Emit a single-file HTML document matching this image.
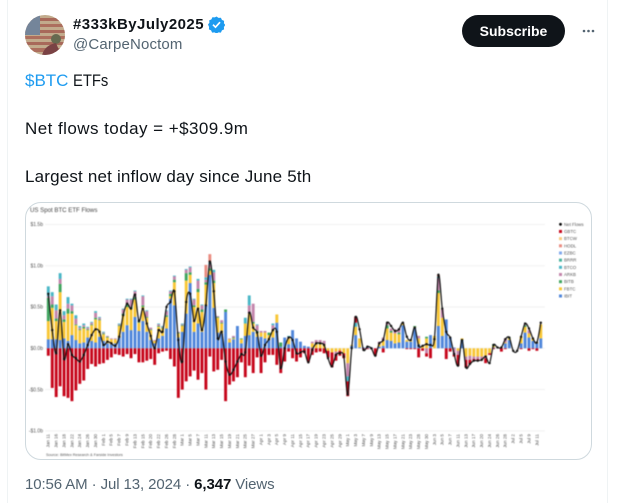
<!DOCTYPE html>
<html lang="en">
<head>
<meta charset="utf-8">
<title>Tweet: BTC ETF flows</title>
<style>
html,body{margin:0;padding:0;background:#fff;width:617px;height:503px;overflow:hidden}
body{font-family:"Liberation Sans",sans-serif;color:#0f1419;position:relative}
.t{position:absolute;white-space:nowrap;line-height:1}
svg text{font-family:"Liberation Sans",sans-serif}
</style>
</head>
<body>
<div style="position:absolute;left:7px;top:0;width:1px;height:503px;background:#eff3f4"></div>
<div style="position:absolute;left:607px;top:0;width:1px;height:503px;background:#eff3f4"></div>

<svg style="position:absolute;left:25px;top:15px" width="40" height="40" viewBox="0 0 40 40">
  <defs><clipPath id="av"><circle cx="20" cy="20" r="20"/></clipPath></defs>
  <g clip-path="url(#av)">
    <rect width="40" height="40" fill="#c2ab8c"/>
    <rect y="3" width="40" height="3" fill="#a8695a"/>
    <rect y="9" width="40" height="3" fill="#ad6f5e"/>
    <rect y="15" width="40" height="3" fill="#a8695a"/>
    <rect y="21" width="40" height="3" fill="#ad6f5e"/>
    <rect y="27" width="40" height="3" fill="#a8695a"/>
    <rect y="33" width="40" height="4" fill="#ad6f5e"/>
    <rect width="15" height="20" fill="#74859a"/>
    <ellipse cx="31" cy="24" rx="5" ry="5" fill="#666a50"/>
    <path d="M17 40 Q20 30 31 28 L36 40Z" fill="#7a4244"/>
  </g>
</svg>

<div class="t" style="left:73px;top:17px;font-size:15px;font-weight:700;letter-spacing:.45px">#333kByJuly2025</div>
<svg style="position:absolute;left:208px;top:16px" width="17" height="17" viewBox="0 0 17 17">
  <path d="M8.5 .5l2 1.4 2.4-.2 1 2.2 2.2 1-.2 2.4 1.4 1.7-1.4 2 .2 2.4-2.2 1-1 2.2-2.4-.2-2 1.1-2-1.1-2.4.2-1-2.2-2.2-1 .2-2.4L0 8.5l1.400-1.700-.2-2.400 2.200-1 1-2.200 2.400.2z" fill="#1d9bf0"/>
  <path d="M5 8.700l2.500 2.500 4.500-5" fill="none" stroke="#fff" stroke-width="1.700"/>
</svg>
<div class="t" style="left:73px;top:37px;font-size:15px;color:#536471;letter-spacing:.15px">@CarpeNoctom</div>

<div style="position:absolute;left:462px;top:15px;width:103px;height:32px;border-radius:16px;background:#0f1419;color:#fff;font-size:14px;font-weight:700;line-height:32px;text-align:center">Subscribe</div>
<svg style="position:absolute;left:581px;top:28px" width="14" height="6" viewBox="0 0 14 6">
  <circle cx="3" cy="3" r="1.300" fill="#536471"/><circle cx="7.500" cy="3" r="1.300" fill="#536471"/><circle cx="12" cy="3" r="1.300" fill="#536471"/>
</svg>

<div class="t" style="left:25px;top:72px;font-size:17px"><span style="color:#1d9bf0">$BTC</span> <span style="display:inline-block;transform:scaleX(.87);transform-origin:left center">ETFs</span></div>
<div class="t" style="left:25px;top:120px;font-size:17px;letter-spacing:.45px">Net flows today = +$309.9m</div>
<div class="t" style="left:25px;top:168px;font-size:17px;letter-spacing:.18px">Largest net inflow day since June 5th</div>

<div style="position:absolute;left:25px;top:202px;width:565px;height:256px;border:1px solid #cfd9de;border-radius:16px;box-sizing:content-box"></div>

<svg id="chart" style="position:absolute;left:0;top:0;filter:blur(.4px)" width="617" height="503" viewBox="0 0 617 503">
  <text x="30" y="212" font-size="6.100" fill="#444">US Spot BTC ETF Flows</text>
  <text x="46" y="456" font-size="3.800" fill="#555">Source: BitMex Research &amp; Farside Investors</text>
  <g id="grid"></g>
  <g id="bars"></g>
  <path id="netline" fill="none" stroke="#111" stroke-width="1.2"></path>
  <g id="dots"></g>
  <g id="xlabels"></g>
  <g id="legend"></g>
</svg>

<div class="t" style="left:25px;top:477px;font-size:15px;color:#536471;letter-spacing:-.1px">10:56 AM · Jul 13, 2024 · <b style="color:#0f1419">6,347</b> Views</div>

<script>
const dates = ["Jan 11","Jan 12","Jan 16","Jan 17","Jan 18","Jan 19","Jan 22","Jan 23","Jan 24","Jan 25","Jan 26","Jan 29","Jan 30","Jan 31",
"Feb 1","Feb 2","Feb 5","Feb 6","Feb 7","Feb 8","Feb 9","Feb 12","Feb 13","Feb 14","Feb 15","Feb 16","Feb 20","Feb 21","Feb 22","Feb 23","Feb 26","Feb 27","Feb 28","Feb 29",
"Mar 1","Mar 4","Mar 5","Mar 6","Mar 7","Mar 8","Mar 11","Mar 12","Mar 13","Mar 14","Mar 15","Mar 18","Mar 19","Mar 20","Mar 21","Mar 22","Mar 25","Mar 26","Mar 27","Mar 28",
"Apr 1","Apr 2","Apr 3","Apr 4","Apr 5","Apr 8","Apr 9","Apr 10","Apr 11","Apr 12","Apr 15","Apr 16","Apr 17","Apr 18","Apr 19","Apr 22","Apr 23","Apr 24","Apr 25","Apr 26","Apr 29","Apr 30",
"May 1","May 2","May 3","May 6","May 7","May 8","May 9","May 10","May 13","May 14","May 15","May 16","May 17","May 20","May 21","May 22","May 23","May 24","May 28","May 29","May 30","May 31",
"Jun 3","Jun 4","Jun 5","Jun 6","Jun 7","Jun 10","Jun 11","Jun 12","Jun 13","Jun 14","Jun 17","Jun 18","Jun 20","Jun 21","Jun 24","Jun 25","Jun 26","Jun 27","Jun 28",
"Jul 1","Jul 2","Jul 3","Jul 5","Jul 8","Jul 9","Jul 10","Jul 11","Jul 12"];
const yTicks = [1.5,1,0.5,0,-0.5,-1];
const yTickLabels = ["$1.5b","$1.0b","$0.5b","$0.0b","-$0.5b","-$1.0b"];
const legendNames = ["Net Flows","GBTC","BTCW","HODL","EZBC","BRRR","BTCO","ARKB","BITB","FBTC","IBIT"];
const ibit = [.11,.11,.11,.10,.12,.09,.16,.10,.06,.07,
.13,.09,.07,.14,.09,.06,.05,.06,.13,.20,
.28,.22,.38,.21,.33,.20,.10,.06,.12,.15,
.24,.60,.52,.13,.20,.42,.79,.20,.30,.20,
.52,.89,.49,.19,.18,.44,.07,.11,.27,.06,
.15,.16,.20,.14,.14,.12,.10,.13,.31,.02,
.13,.05,.22,.12,.08,.03,.02,.01,0,0,
0,0,0,0,0,0,0,.03,.16,.01,
.01,.02,.01,0,.02,.03,.10,.09,.06,.07,
.28,.08,.08,.25,.05,0,0,.16,0,.27,
.15,.35,.13,.01,0,.10,0,0,0,0,
0,0,0,.01,0,0,.06,.10,0,0,
.06,.19,.13,.09,.06,.12];
const fbtc = [.22,.38,.22,.58,.20,.33,.26,.18,.16,.17,
.09,.19,.28,.20,.08,.07,.06,.05,.14,.20,
.22,.26,.21,.10,.17,.17,.12,.03,.14,.09,
.14,.03,.28,.05,.07,.40,.10,.30,.38,.24,
.25,.05,.30,.18,.12,0,.04,.01,0,.05,
.15,.26,.10,.05,.05,.07,.06,.10,.10,0,
0,.07,0,0,0,0,0,.05,.05,.05,
.05,-.03,-.05,-.04,-.03,-.06,-.18,.01,.10,.11,
0,0,0,0,.03,.06,.14,.10,.12,.10,
.02,.02,.01,.01,.07,.03,.12,0,.15,.40,
.22,0,0,0,-.03,.02,-.10,-.09,-.10,-.10,
-.10,-.09,-.06,.02,0,0,.01,.02,0,0,
.08,.07,.05,.03,.01,.17];
const bitb = [.28,.04,.03,.10,.03,.06,.03,.01,.01,.02,
.01,.01,.02,.01,.01,.01,0,0,.01,.02,
.03,.02,.03,.01,.02,.01,.01,0,.01,.01,
.02,.03,.03,.01,.01,.09,.03,.02,.04,.03,
.03,.03,.03,.01,.01,.03,0,.01,0,.01,
0,0,.02,.02,0,0,.03,0,0,.05,
0,0,0,0,0,0,0,0,.01,.01,
0,0,0,0,0,0,0,0,0,0,
0,0,0,0,0,0,.04,.02,0,.02,
0,0,0,.01,0,0,.02,0,0,.03,
0,0,0,0,0,0,0,0,0,0,
0,0,0,.02,0,0,0,.01,0,0,
0,.02,0,0,0,0];
const arkb = [.02,.10,.10,.06,.05,.06,.07,.07,.02,.02,
.02,.02,.06,.02,.01,.01,.01,.01,.01,.05,
.06,.09,.07,.02,.11,.07,.02,.01,.02,.01,
.05,.03,.04,.01,.01,.04,.06,.07,.10,.05,
.03,.05,.10,.01,.03,0,.01,.02,0,0,
0,.10,.22,.07,.02,.02,0,.05,0,0,
0,.02,0,0,0,0,0,.02,.04,.04,
.04,0,0,-.03,0,0,-.16,0,0,0,
0,0,0,0,.03,.04,.03,.03,.05,.05,
.01,0,0,0,.03,0,-.06,0,0,.15,
.10,0,0,-.08,-.05,0,-.04,-.05,-.03,-.03,
-.03,-.03,0,0,0,0,.05,0,0,0,
0,.01,.04,0,0,0];
const btco = [.12,.05,.07,.07,.05,.08,.02,.04,.02,.02,
.01,.01,.02,.01,.01,0,0,0,.01,.01,
.01,.01,.01,.01,.01,.01,0,0,.01,.01,
.01,.01,.01,0,.01,.01,.01,.01,.02,.01,
.03,.02,.03,0,0,0,0,0,0,0,
.07,.12,0,.01,0,0,0,.02,0,0,
0,.01,0,0,0,0,0,0,0,0,
0,0,0,0,0,0,-.06,0,.05,0,
0,0,0,0,0,0,0,0,0,0,
0,0,0,0,0,0,0,0,0,.02,
0,0,0,0,0,0,0,0,0,0,
0,0,0,0,0,0,0,0,0,0,
0,0,0,0,0,0];
const hodl = [0,0,0,0,0,0,0,0,0,0,
0,0,0,0,0,0,0,0,0,0,
0,0,0,0,0,0,0,0,0,0,
0,0,0,0,0,0,0,0,0,0,
.15,.10,0,0,0,0,0,0,0,0,
0,0,0,0,0,0,0,0,0,0,
0,0,0,0,0,0,0,0,0,0,
0,0,0,0,0,0,0,0,0,0,
0,0,0,0,0,0,0,0,0,0,
0,0,0,0,0,0,0,0,0,.02,
0,0,0,0,0,0,0,0,0,0,
0,0,0,0,0,0,0,0,0,0,
0,0,0,0,0,0];
const gbtc = [-.09,-.48,-.59,-.46,-.58,-.60,-.64,-.51,-.43,-.39,
-.25,-.19,-.22,-.19,-.18,-.14,-.11,-.07,-.08,-.10,
-.07,-.12,-.07,-.17,-.17,-.15,-.13,-.20,-.06,-.04,
-.03,-.13,-.22,-.60,-.50,-.40,-.34,-.27,-.38,-.30,
-.50,-.10,-.28,-.26,-.14,-.64,-.44,-.40,-.35,-.17,
-.35,-.21,-.30,-.11,-.30,-.17,-.08,-.08,-.20,-.30,
-.16,-.04,-.12,-.16,-.11,-.06,-.17,-.08,-.05,-.04,
-.06,-.08,-.18,-.08,-.06,-.06,-.18,0,.07,0,
-.01,-.01,-.01,-.09,0,-.05,0,0,0,0,
0,-.01,-.01,-.01,-.11,-.03,-.04,-.12,0,0,
0,-.13,-.04,-.02,-.13,0,-.09,-.05,-.02,-.01,
0,-.06,-.02,-.01,0,-.04,-.01,0,0,0,
-.01,0,-.03,-.01,-.03,0];
const netFlows = [.66,.22,-.06,.46,-.13,.05,-.08,-.12,-.16,-.08,
.04,.16,.23,.20,.04,.08,.06,.03,.14,.40,
.54,.48,.65,.33,.48,.30,.15,0,.22,.20,
.50,.56,.69,.10,-.16,.56,.66,.33,.48,.22,
.52,1.05,.69,.12,.20,-.16,-.32,-.26,-.16,-.07,
-.05,.43,.25,.19,-.09,.04,.11,.22,.20,-.24,
0,.13,.10,-.06,-.05,-.04,-.17,-.02,.06,.06,
.04,-.12,-.22,-.08,-.06,-.10,-.56,0,.38,.23,
-.02,.02,0,-.09,.06,.10,.31,.27,.21,.23,
.31,.14,.10,.25,.03,.03,.05,.04,.11,.89,
.48,.20,.13,-.07,-.21,.10,-.23,-.19,-.15,-.15,
-.14,-.10,-.18,.04,.01,.01,.11,.13,-.03,-.03,
.14,.30,.24,.12,.07,.31];

const NS = "http://www.w3.org/2000/svg";
const xOf = i => 48.3 + 3.94 * i;
const yOf = v => 348.3 - 82.6 * v;
const stacks = [
  {key:"ibit", values:ibit, color:"#4f86da"},
  {key:"fbtc", values:fbtc, color:"#f8c635"},
  {key:"bitb", values:bitb, color:"#3fa55e"},
  {key:"arkb", values:arkb, color:"#c384ab"},
  {key:"btco", values:btco, color:"#48b6c6"},
  {key:"hodl", values:hodl, color:"#ea8b80"},
  {key:"gbtc", values:gbtc, color:"#c6051a"}
];
const legendColors = ["#000","#c6051a","#f9c97c","#ea8b80","#7fa8ee","#45b39d","#48b6c6","#c384ab","#3fa55e","#f8c635","#4f86da"];

function mk(tag, attrs, parent){
  const el = document.createElementNS(NS, tag);
  for (const k in attrs) el.setAttribute(k, attrs[k]);
  parent.appendChild(el);
  return el;
}

const grid = document.getElementById("grid");
yTicks.forEach((t, i) => {
  const line = mk("line", {x1:45, x2:545, y1:yOf(t), y2:yOf(t), stroke:"#f1f1f1", "stroke-width":1}, grid);
  
  
  const lab = mk("text", {x:43, y:yOf(t)+1.7, "text-anchor":"end", "font-size":5, fill:"#555"}, grid);
  
  
  lab.textContent = yTickLabels[i];
});

const barsG = document.getElementById("bars");
dates.forEach((d, i) => {
  let up = 0, down = 0;
  stacks.forEach(s => {
    const v = s.values[i];
    if (!v) return;
    let y0, y1;
    if (v > 0) { y0 = yOf(up + v); y1 = yOf(up); up += v; }
    else { y0 = yOf(down); y1 = yOf(down + v); down += v; }
    const r = mk("rect", {x:xOf(i)-1.45, y:y0, width:2.9, height:y1-y0, fill:s.color}, barsG);
    
    
  });
});

const pts = netFlows.map((v, i) => [xOf(i), yOf(v)]);
let dStr = "M" + pts[0][0] + " " + pts[0][1];
for (let i = 0; i < pts.length - 1; i++) {
  const p0 = pts[Math.max(i-1,0)], p1 = pts[i], p2 = pts[i+1], p3 = pts[Math.min(i+2,pts.length-1)];
  const k = 0.16;
  dStr += " C" + (p1[0]+(p2[0]-p0[0])*k) + " " + (p1[1]+(p2[1]-p0[1])*k) + " " + (p2[0]-(p3[0]-p1[0])*k) + " " + (p2[1]-(p3[1]-p1[1])*k) + " " + p2[0] + " " + p2[1];
}
document.getElementById("netline").setAttribute("d", dStr);
const dots = document.getElementById("dots");
pts.forEach(p => {
  const c = mk("circle", {cx:p[0], cy:p[1], r:1.2, fill:"#111"}, dots);
  
  
});

const xl = document.getElementById("xlabels");
dates.forEach((d, i) => {
  if (i % 2) return;
  const x = xOf(i) + 1.4;
  const t = mk("text", {x:x, y:434, "text-anchor":"end", "font-size":4.6, fill:"#555", transform:"rotate(-90 " + x + " 434)"}, xl);
  
  
  t.textContent = d;
});

const lg = document.getElementById("legend");
legendNames.forEach((n, i) => {
  const y = 224.3 + 7.17 * i;
  const m = i === 0
    ? mk("circle", {cx:560.5, cy:y, r:1.4, fill:legendColors[i]}, lg)
    : mk("rect", {x:559, y:y-1.5, width:3, height:3, fill:legendColors[i]}, lg);
  
  
  const t = mk("text", {x:564, y:y+1.5, "font-size":4.4, fill:"#555"}, lg);
  
  
  t.textContent = n;
});
</script>
</body>
</html>
